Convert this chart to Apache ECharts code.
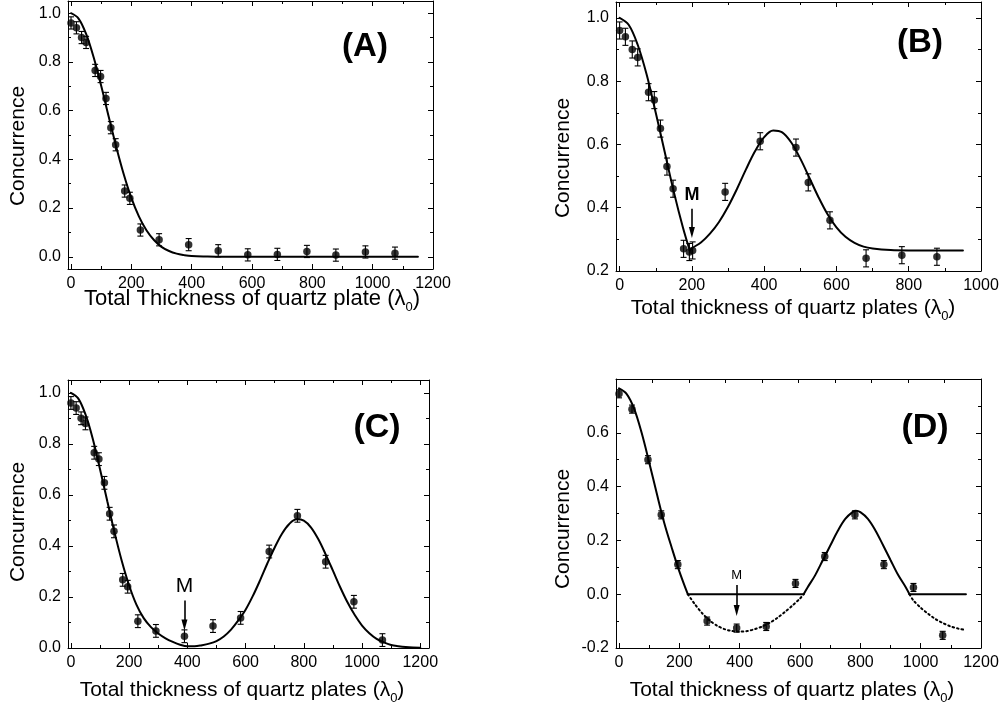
<!DOCTYPE html>
<html><head><meta charset="utf-8">
<script src="https://cdn.jsdelivr.net/npm/echarts@6/dist/echarts.min.js"></script>
<style>html,body{margin:0;padding:0;background:#fff}#c{width:1002px;height:708px}</style>
</head><body><div id="c"></div><script>
// ---------------- data ----------------
const xMajor1200 = [0, 200, 400, 600, 800, 1000, 1200];
const xMinor1200 = [100, 300, 500, 700, 900, 1100];
const xMajor1000 = [0, 200, 400, 600, 800, 1000];
const xMinor1000 = [100, 300, 500, 700, 900];
const yMajorAC = [0, 0.2, 0.4, 0.6, 0.8, 1.0];
const yMinorAC = [0.1, 0.3, 0.5, 0.7, 0.9];
const yMajorB = [0.2, 0.4, 0.6, 0.8, 1.0];
const yMinorB = [0.3, 0.5, 0.7, 0.9];
const yMajorD = [-0.2, 0, 0.2, 0.4, 0.6];
const yMinorD = [-0.1, 0.1, 0.3, 0.5, 0.7];
const dTopTicks = [111, 232, 353, 474, 595, 716, 837, 958, 1079];

// Panel A
const aPtX = [0, 18, 35, 50, 80, 98, 116, 132, 148, 178, 195, 230, 292, 390, 488, 586, 684, 782, 878, 976, 1074];
const aPtY = [0.96, 0.94, 0.90, 0.88, 0.765, 0.74, 0.65, 0.53, 0.46, 0.27, 0.24, 0.11, 0.07, 0.05, 0.025, 0.008, 0.01, 0.022, 0.007, 0.02, 0.015];
const aPtErr = [0.025, 0.025, 0.025, 0.025, 0.025, 0.025, 0.025, 0.025, 0.025, 0.025, 0.025, 0.025, 0.025, 0.025, 0.025, 0.025, 0.025, 0.025, 0.025, 0.025, 0.025];
const aFitX = [0, 25, 50, 75, 100, 125, 150, 175, 200, 225, 250, 275, 300, 325, 350, 375, 400, 450, 500, 600, 1150];
const aFitY = [1.0, 0.978, 0.915, 0.819, 0.702, 0.575, 0.451, 0.338, 0.242, 0.166, 0.109, 0.069, 0.041, 0.024, 0.013, 0.007, 0.003, 0.001, 0, 0, 0];

// Panel B
const bPtX = [0, 16, 35, 50, 80, 96, 113, 131, 148, 177, 193, 202, 292, 389, 488, 522, 582, 682, 781, 878];
const bPtY = [0.96, 0.94, 0.90, 0.875, 0.765, 0.74, 0.65, 0.53, 0.46, 0.27, 0.26, 0.265, 0.45, 0.61, 0.59, 0.48, 0.36, 0.24, 0.25, 0.245];
const bPtErr = [0.027, 0.027, 0.027, 0.027, 0.027, 0.027, 0.027, 0.027, 0.027, 0.027, 0.027, 0.027, 0.027, 0.027, 0.027, 0.027, 0.027, 0.027, 0.027, 0.027];
const bFit1X = [0, 25, 50, 75, 100, 125, 150, 175, 194];
const bFit1Y = [1.0, 0.978, 0.915, 0.82, 0.70, 0.575, 0.45, 0.338, 0.265];
const bFit2X = [194, 200, 225, 250, 275, 300, 325, 350, 375, 400, 425, 450, 475, 500, 525, 550, 575, 600, 625, 650, 675, 700, 750, 800, 950];
const bFit2Y = [0.265, 0.272, 0.29, 0.318, 0.355, 0.403, 0.46, 0.522, 0.579, 0.623, 0.644, 0.638, 0.606, 0.555, 0.495, 0.434, 0.38, 0.338, 0.308, 0.289, 0.277, 0.271, 0.266, 0.265, 0.265];
const bMark = [200, 0.44, 0.397, 0.322];   // x, label y, arrow start y, arrow-head centre y

// Panel C
const cPtX = [0, 18, 35, 50, 80, 96, 115, 133, 148, 178, 195, 230, 292, 390, 488, 583, 681, 778, 875, 972, 1070];
const cPtY = [0.96, 0.94, 0.90, 0.88, 0.765, 0.74, 0.647, 0.526, 0.457, 0.267, 0.24, 0.105, 0.067, 0.046, 0.086, 0.118, 0.378, 0.518, 0.338, 0.181, 0.031];
const cPtErr = [0.025, 0.025, 0.025, 0.025, 0.025, 0.025, 0.025, 0.025, 0.025, 0.025, 0.025, 0.025, 0.025, 0.025, 0.025, 0.025, 0.025, 0.025, 0.025, 0.025, 0.025];
const cFitX = [0, 25, 50, 75, 100, 125, 150, 175, 200, 225, 250, 275, 300, 325, 350, 375, 400, 425, 450, 475, 500, 525, 550, 575, 600, 625, 650, 675, 700, 725, 750, 775, 800, 825, 850, 875, 900, 925, 950, 975, 1000, 1025, 1050, 1075, 1100, 1125, 1150, 1175, 1200];
const cFitY = [1.0, 0.978, 0.915, 0.82, 0.70, 0.575, 0.452, 0.34, 0.245, 0.17, 0.117, 0.082, 0.057, 0.038, 0.024, 0.013, 0.007, 0.007, 0.011, 0.017, 0.027, 0.045, 0.072, 0.108, 0.150, 0.204, 0.266, 0.332, 0.394, 0.448, 0.486, 0.504, 0.499, 0.472, 0.426, 0.367, 0.303, 0.238, 0.179, 0.129, 0.088, 0.058, 0.036, 0.022, 0.012, 0.007, 0.0035, 0.0017, 0.001];
const cMark = [390, 0.243, 0.186, 0.09];

// Panel D
const dPtX = [0, 43, 96, 140, 195, 292, 390, 488, 585, 682, 782, 878, 976, 1073];
const dPtY = [0.745, 0.688, 0.50, 0.295, 0.11, -0.10, -0.126, -0.12, 0.04, 0.14, 0.295, 0.11, 0.025, -0.153];
const dPtErr = [0.015, 0.015, 0.015, 0.015, 0.015, 0.015, 0.015, 0.015, 0.015, 0.015, 0.015, 0.015, 0.015, 0.015];
const dFit1X = [0, 25, 50, 75, 100, 125, 150, 175, 200, 228];
const dFit1Y = [0.765, 0.745, 0.69, 0.60, 0.49, 0.375, 0.265, 0.172, 0.085, 0];
const dZero1X = [228, 612];
const dZero1Y = [0, 0];
const dBumpX = [612, 625, 650, 675, 700, 725, 750, 775, 785, 800, 825, 850, 875, 900, 925, 950, 963];
const dBumpY = [0, 0.025, 0.07, 0.125, 0.18, 0.235, 0.28, 0.306, 0.31, 0.305, 0.28, 0.237, 0.183, 0.127, 0.072, 0.027, 0];
const dZero2X = [963, 1150];
const dZero2Y = [0, 0];
const dDot1X = [228, 250, 275, 300, 325, 350, 375, 400, 425, 450, 475, 500, 525, 550, 575, 600, 612];
const dDot1Y = [0, -0.035, -0.07, -0.097, -0.117, -0.13, -0.137, -0.139, -0.137, -0.13, -0.12, -0.106, -0.088, -0.066, -0.042, -0.016, 0];
const dDot2X = [963, 975, 1000, 1025, 1050, 1075, 1100, 1125, 1150];
const dDot2Y = [0, -0.022, -0.05, -0.073, -0.093, -0.108, -0.12, -0.128, -0.133];
const dMark = [390, 0.07, 0.034, -0.061];

// ---------------- build ----------------
const FONT = '"Liberation Sans", Arial, Helvetica, sans-serif';
const grids = [], xAxes = [], yAxes = [], series = [], graphics = [];
const zip = (xs, ys) => xs.map((x, i) => [x, ys[i]]);

function base(gi, min, max, pos) {
  return { type: 'value', gridIndex: gi, min: min, max: max, position: pos,
    splitLine: { show: false }, axisLine: { show: false, onZero: false },
    axisTick: { show: false }, axisLabel: { show: false } };
}
function tickAxis(gi, min, max, pos, vals, len, line) {
  const a = base(gi, min, max, pos);
  a.axisTick = { show: true, inside: true, length: len, customValues: vals, lineStyle: { color: '#000', width: 1 } };
  if (line) a.axisLine = { show: true, onZero: false, lineStyle: { color: '#000', width: 1 } };
  return a;
}
function addPanel(p) {
  const gi = grids.length;
  grids.push({ left: p.grid[0], top: p.grid[1], width: p.grid[2], height: p.grid[3] });
  const xi = xAxes.length, yi = yAxes.length;
  const xb = tickAxis(gi, p.x[0], p.x[1], 'bottom', p.xMaj, 5, true);
  xb.axisLabel = { show: true, customValues: p.xMaj, margin: 7, fontSize: 16, color: '#000', fontFamily: FONT, formatter: v => String(v) };
  xAxes.push(xb);
  xAxes.push(tickAxis(gi, p.x[0], p.x[1], 'bottom', p.xMin, 3, false));
  xAxes.push(tickAxis(gi, p.x[0], p.x[1], 'top', p.xTopMaj || p.xMaj, p.xTopMaj ? 4 : 5, true));
  if (!p.xTopMaj) xAxes.push(tickAxis(gi, p.x[0], p.x[1], 'top', p.xMin, 3, false));
  const yl = tickAxis(gi, p.y[0], p.y[1], 'left', p.yMaj, 5, true);
  yl.axisLabel = { show: true, customValues: p.yMaj, margin: 7, fontSize: 16, color: '#000', fontFamily: FONT, formatter: v => v.toFixed(1) };
  yAxes.push(yl);
  yAxes.push(tickAxis(gi, p.y[0], p.y[1], 'left', p.yMin, 3, false));
  yAxes.push(tickAxis(gi, p.y[0], p.y[1], 'right', p.yMaj, 5, true));
  yAxes.push(tickAxis(gi, p.y[0], p.y[1], 'right', p.yMin, 3, false));

  // fit curves
  p.lines.forEach(l => series.push({ type: 'line', xAxisIndex: xi, yAxisIndex: yi, data: zip(l[0], l[1]),
    showSymbol: false, symbol: 'none', smooth: l[2] === 'dot' ? 0.3 : 0.35, silent: true, z: 3,
    lineStyle: { color: '#000', width: 2, type: l[2] === 'dot' ? [1.6, 3] : 'solid', cap: 'round' } }));
  // error bars
  series.push({ type: 'custom', xAxisIndex: xi, yAxisIndex: yi, z: 4, silent: true,
    data: p.pts[0].map((x, i) => [x, p.pts[1][i], p.pts[2][i]]),
    encode: { x: 0, y: 1 },
    renderItem: (params, api) => {
      const x = api.value(0), y = api.value(1), e = api.value(2);
      const t = api.coord([x, y + e]), b = api.coord([x, y - e]);
      const hw = 3, st = { stroke: '#000', lineWidth: 1.1 };
      return { type: 'group', children: [
        { type: 'line', shape: { x1: t[0], y1: t[1], x2: b[0], y2: b[1] }, style: st },
        { type: 'line', shape: { x1: t[0] - hw, y1: t[1], x2: t[0] + hw, y2: t[1] }, style: st },
        { type: 'line', shape: { x1: b[0] - hw, y1: b[1], x2: b[0] + hw, y2: b[1] }, style: st } ] };
    } });
  // points
  const sc = { type: 'scatter', xAxisIndex: xi, yAxisIndex: yi, z: 5, symbol: 'circle', symbolSize: 7.5,
    itemStyle: { color: '#000' }, data: zip(p.pts[0], p.pts[1]), silent: true };
  if (p.mark) {
    const m = p.mark;
    sc.markLine = { silent: true, animation: false, symbol: ['none', 'triangle'], symbolSize: [6, 11],
      lineStyle: { color: '#000', width: 1.6, type: 'solid' }, label: { show: false },
      data: [[{ coord: [m[0], m[2]] }, { coord: [m[0], m[3]] }]] };
    sc.markPoint = { silent: true, animation: false, symbol: 'circle', symbolSize: 1, itemStyle: { color: 'rgba(0,0,0,0)' },
      label: { show: true, position: 'inside', formatter: 'M', color: '#000', fontFamily: FONT,
        fontSize: p.markFont[0], fontWeight: p.markFont[1] },
      data: [{ coord: [m[0], m[1]] }] };
  }
  series.push(sc);
  // texts
  graphics.push({ type: 'text', x: p.tag[0], y: p.tag[1], style: { text: p.tag[2], fill: '#000',
    font: 'bold ' + p.tag[3] + 'px ' + FONT, align: 'center', verticalAlign: 'middle' } });
  graphics.push({ type: 'text', x: p.yName[0], y: p.yName[1], rotation: Math.PI / 2, style: { text: 'Concurrence', fill: '#000',
    font: '21px ' + FONT, align: 'center', verticalAlign: 'middle' } });
  graphics.push({ type: 'text', x: p.xName[0], y: p.xName[1], style: { text: p.xName[2] + ' (λ{s|0})', fill: '#000',
    font: p.xName[3] + 'px ' + FONT, align: 'center', verticalAlign: 'middle', lineHeight: 30,
    rich: { s: { fontSize: 13, fontFamily: FONT, verticalAlign: 'bottom', lineHeight: 14 } } } });
}

addPanel({ grid: [68, 1, 365, 268], x: [-10, 1200], y: [-0.05, 1.05], xMaj: xMajor1200, xMin: xMinor1200, yMaj: yMajorAC, yMin: yMinorAC,
  pts: [aPtX, aPtY, aPtErr], lines: [[aFitX, aFitY]],
  tag: [365, 47, '(A)', 33], yName: [18, 146], xName: [252, 299, 'Total Thickness of quartz plate', 22] });
addPanel({ grid: [616, 2, 365, 269], x: [-10, 1000], y: [0.2, 1.05], xMaj: xMajor1000, xMin: xMinor1000, yMaj: yMajorB, yMin: yMinorB,
  pts: [bPtX, bPtY, bPtErr], lines: [[bFit1X, bFit1Y], [bFit2X, bFit2Y]], mark: bMark, markFont: [18, 'bold'],
  tag: [920, 43, '(B)', 33], yName: [563, 158], xName: [793, 308, 'Total thickness of quartz plates', 21] });
addPanel({ grid: [68, 380, 361, 268], x: [-10, 1230], y: [0, 1.05], xMaj: xMajor1200, xMin: xMinor1200, yMaj: yMajorAC, yMin: yMinorAC,
  pts: [cPtX, cPtY, cPtErr], lines: [[cFitX, cFitY]], mark: cMark, markFont: [21, 'normal'],
  tag: [377, 428, '(C)', 34], yName: [18, 522], xName: [242, 690, 'Total thickness of quartz plates', 21] });
addPanel({ grid: [616, 379, 365, 269], x: [-10, 1200], y: [-0.2, 0.8], xMaj: xMajor1200, xMin: xMinor1200, xTopMaj: dTopTicks, yMaj: yMajorD, yMin: yMinorD,
  pts: [dPtX, dPtY, dPtErr],
  lines: [[dFit1X, dFit1Y], [dZero1X, dZero1Y], [dBumpX, dBumpY], [dZero2X, dZero2Y], [dDot1X, dDot1Y, 'dot'], [dDot2X, dDot2Y, 'dot']],
  mark: dMark, markFont: [13, 'normal'],
  tag: [925, 428, '(D)', 34], yName: [563, 529], xName: [792, 690, 'Total thickness of quartz plates', 21] });

const chart = echarts.init(document.getElementById('c'), null, { renderer: 'canvas' });
chart.setOption({ animation: false, backgroundColor: '#fff', grid: grids, xAxis: xAxes, yAxis: yAxes, series: series, graphic: graphics });
</script></body></html>
